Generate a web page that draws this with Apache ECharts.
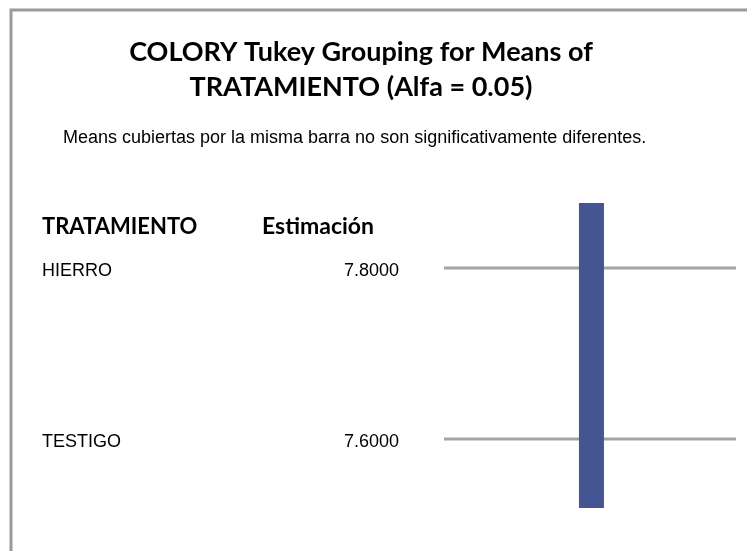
<!DOCTYPE html>
<html>
<head>
<meta charset="utf-8">
<script src="https://cdn.jsdelivr.net/npm/echarts@6/dist/echarts.min.js"></script>
<style>
  html, body { margin: 0; padding: 0; background: #fff; }
  #container { width: 747px; height: 551px; }
</style>
</head>
<body>
<div id="container"></div>
<script>
// Tukey grouping - datos
var treatments = ['HIERRO', 'TESTIGO'];
var estimates = [7.8, 7.6];
// grupos: fila inicial y final que cubre cada barra
var groups = [[0, 1]];
var groupPos = [0.505];

(() => {
  var dom = document.getElementById("container");
  var myChart = echarts.init(dom);
  var option = null;

  var rows = treatments.map((t, i) => i);

  option = {
    animation: false,
    backgroundColor: '#fff',
    graphic: [
      {
        type: 'rect',
        shape: { x: 11, y: 10, width: 800, height: 600 },
        style: { fill: 'none', stroke: '#9a9a9a', lineWidth: 3 }
      },
      {
        // titulo
        type: 'text', x: 361, y: 35,
        style: {
          text: 'COLORY Tukey Grouping for Means of\nTRATAMIENTO (Alfa = 0.05)',
          font: 'bold 27px Lato', lineHeight: 35,
          align: 'center', fill: '#000'
        }
      },
      {
        type: 'text', left: 63, top: 129,
        style: {
          text: 'Means cubiertas por la misma barra no son significativamente diferentes.',
          font: '18px "Liberation Sans"', fill: '#000'
        }
      },
      {
        type: 'text', left: 42, top: 216,
        style: { text: 'TRATAMIENTO', font: 'bold 22px Lato', fill: '#000' }
      },
      {
        type: 'text', left: 262, top: 215,
        style: { text: 'Estimación', font: 'bold 23px Lato', fill: '#000' }
      }
    ],
    grid: {
      left: 444,
      right: 11,
      top: 182.5,
      bottom: 26.5
    },
    xAxis: {
      type: 'value',
      min: 0,
      max: 1,
      show: false
    },
    yAxis: [
      {
        type: 'category',
        data: treatments,
        inverse: true,
        position: 'left',
        axisLine: { show: false },
        axisTick: { show: false },
        splitLine: { show: false },
        axisLabel: {
          margin: 402,
          align: 'left',
          verticalAlign: 'top',
          lineHeight: 7,
          fontFamily: 'Liberation Sans',
          fontSize: 18,
          color: '#000'
        }
      },
      {
        type: 'category',
        data: estimates.map(v => v.toFixed(4)),
        inverse: true,
        position: 'left',
        axisLine: { show: false },
        axisTick: { show: false },
        splitLine: { show: false },
        axisLabel: {
          margin: 45,
          align: 'right',
          verticalAlign: 'top',
          lineHeight: 7,
          fontFamily: 'Liberation Sans',
          fontSize: 18,
          color: '#000'
        }
      }
    ],
    series: [
      {
        // lineas horizontales por tratamiento
        type: 'custom',
        data: rows,
        renderItem: (params, api) => {
          var row = api.value(0);
          var p0 = api.coord([0, row]);
          var p1 = api.coord([1, row]);
          return {
            type: 'line',
            shape: { x1: p0[0], y1: p0[1], x2: p1[0], y2: p1[1] },
            style: { stroke: '#a0a5a8', lineWidth: 3 }
          };
        },
        encode: { x: -1, y: 0 }
      },
      {
        // barra de agrupamiento
        type: 'custom',
        data: groups.map((g, i) => [groupPos[i], g[0], g[1]]),
        renderItem: (params, api) => {
          var top = api.coord([api.value(0), api.value(1)]);
          var bot = api.coord([api.value(0), api.value(2)]);
          var w = 25;
          return {
            type: 'rect',
            shape: {
              x: top[0] - w / 2,
              y: top[1] - 65,
              width: w,
              height: bot[1] - top[1] + 134
            },
            style: { fill: '#445592' }
          };
        },
        encode: { x: 0, y: [1, 2] },
        z: 3
      }
    ]
  };

  if (option && typeof option === "object") {
    myChart.setOption(option, true);
  }
})();
</script>
</body>
</html>
